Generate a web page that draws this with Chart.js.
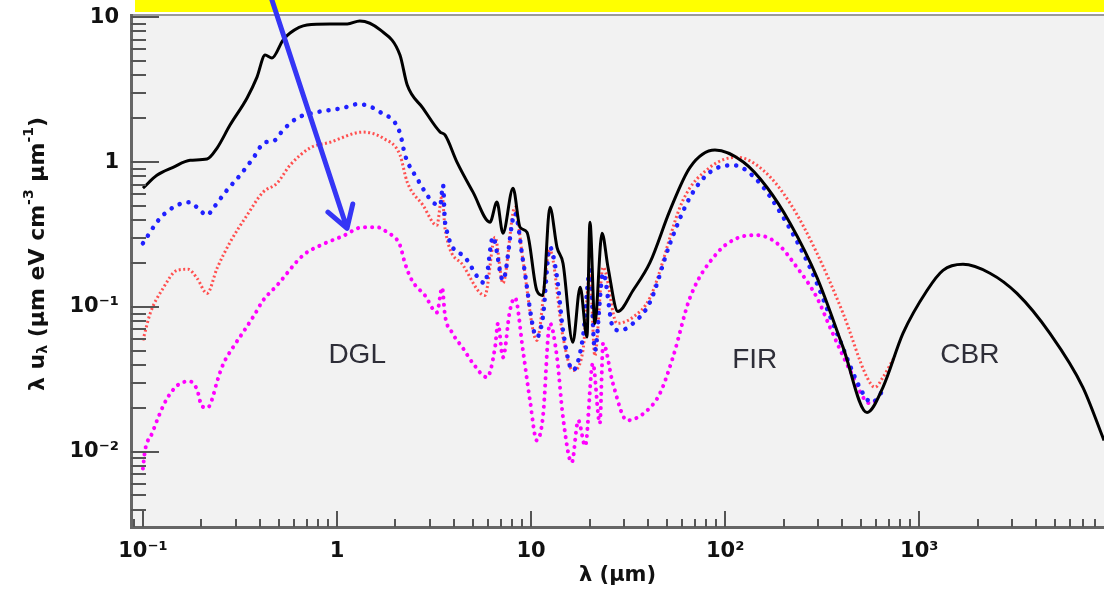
<!DOCTYPE html>
<html>
<head>
<meta charset="utf-8">
<script src="https://cdn.jsdelivr.net/npm/chart.js@4.4.1/dist/chart.umd.min.js"></script>
<style>
  body { margin: 0; background: #fff; }
  canvas { display: block; }
</style>
</head>
<body>
<canvas id="chart" width="1104" height="589"></canvas>
<script>
// wavelength (um) and lambda*u_lambda values
const blackX = [0.1, 0.118, 0.143, 0.175, 0.214, 0.241, 0.281, 0.344, 0.387, 0.426, 0.462, 0.527, 0.573, 0.70, 0.92, 1.13, 1.31, 1.67, 2.11, 2.30, 2.77, 3.40, 3.60, 4.15, 5.02, 6.14, 6.67, 7.16, 8.07, 8.77, 9.52, 10.7, 11.5, 12.5, 13.6, 14.6, 16.4, 17.9, 19.4, 20.1, 21.3, 23.2, 24.9, 28.0, 33.5, 41.0, 52.0, 65.9, 88.6, 124, 164, 216, 297, 405, 538, 650, 824, 1096, 1325, 1680, 2313, 3187, 4711, 6966, 8950];
const blackY = [0.66, 0.81, 0.92, 1.03, 1.05, 1.25, 1.80, 2.77, 3.86, 5.48, 5.23, 6.95, 7.78, 8.83, 8.97, 8.97, 9.42, 8.16, 5.48, 3.40, 2.36, 1.61, 1.54, 1.0, 0.62, 0.385, 0.53, 0.323, 0.66, 0.355, 0.328, 0.130, 0.120, 0.488, 0.258, 0.200, 0.057, 0.137, 0.062, 0.385, 0.077, 0.323, 0.188, 0.093, 0.130, 0.203, 0.466, 0.92, 1.21, 1.0, 0.67, 0.378, 0.160, 0.0526, 0.0187, 0.0279, 0.0657, 0.130, 0.179, 0.197, 0.171, 0.124, 0.0657, 0.0279, 0.0120];

const blueX = [0.1, 0.1225, 0.150, 0.175, 0.192, 0.214, 0.230, 0.271, 0.316, 0.369, 0.426, 0.468, 0.527, 0.622, 0.789, 1.07, 1.28, 1.67, 2.11, 2.24, 2.58, 3.12, 3.40, 3.52, 3.60, 4.46, 5.78, 6.36, 7.16, 8.26, 9.08, 10.7, 11.5, 12.5, 13.6, 14.6, 16.4, 18.5, 20.1, 21.3, 23.5, 26.4, 28.7, 33.5, 41.0, 52.0, 65.9, 83.5, 110, 146, 199, 273, 377, 513, 570, 650];
const blueY = [0.275, 0.409, 0.504, 0.528, 0.480, 0.430, 0.480, 0.640, 0.81, 1.06, 1.37, 1.39, 1.66, 2.01, 2.21, 2.36, 2.51, 2.21, 1.59, 1.12, 0.774, 0.528, 0.504, 0.692, 0.385, 0.227, 0.146, 0.303, 0.153, 0.443, 0.210, 0.062, 0.085, 0.258, 0.160, 0.0689, 0.0365, 0.062, 0.179, 0.050, 0.171, 0.0722, 0.0689, 0.077, 0.108, 0.275, 0.572, 0.852, 0.952, 0.750, 0.416, 0.188, 0.0657, 0.0253, 0.0219, 0.0265];

const redX = [0.1, 0.109, 0.127, 0.150, 0.171, 0.190, 0.214, 0.241, 0.281, 0.344, 0.416, 0.491, 0.573, 0.726, 0.92, 1.36, 1.73, 2.11, 2.30, 2.77, 3.27, 3.48, 3.60, 4.46, 5.78, 6.52, 7.16, 8.26, 9.08, 10.7, 12.5, 14.6, 16.4, 18.5, 20.1, 21.3, 23.5, 27.7, 33.5, 41.0, 60.6, 83.5, 115, 157, 216, 297, 405, 538, 591, 650, 750];
const redY = [0.0588, 0.0903, 0.1345, 0.179, 0.182, 0.158, 0.124, 0.185, 0.279, 0.430, 0.62, 0.715, 0.952, 1.25, 1.37, 1.61, 1.46, 1.12, 0.727, 0.504, 0.366, 0.59, 0.349, 0.194, 0.120, 0.303, 0.146, 0.488, 0.210, 0.0588, 0.246, 0.062, 0.0365, 0.050, 0.17, 0.046, 0.188, 0.077, 0.085, 0.116, 0.545, 0.92, 1.08, 0.879, 0.520, 0.235, 0.0903, 0.0327, 0.0279, 0.0327, 0.046];

const magX = [0.1, 0.1025, 0.1114, 0.121, 0.133, 0.155, 0.175, 0.190, 0.2015, 0.216, 0.227, 0.241, 0.259, 0.291, 0.328, 0.374, 0.416, 0.491, 0.668, 0.847, 1.07, 1.36, 1.61, 1.81, 2.11, 2.24, 2.43, 2.84, 3.27, 3.48, 3.60, 3.91, 4.46, 5.02, 5.93, 6.52, 6.75, 7.16, 7.78, 8.26, 9.08, 9.87, 10.7, 11.5, 12.5, 13.6, 14.6, 16.2, 17.5, 19.0, 20.8, 22.6, 23.5, 26.4, 31.2, 39.6, 46.1, 53.8, 65.9, 90.7, 115, 146, 185, 234, 297, 347, 440, 557, 620];
const magY = [0.00767, 0.0102, 0.0134, 0.0178, 0.0233, 0.0296, 0.0306, 0.0269, 0.0206, 0.0202, 0.0230, 0.0306, 0.0402, 0.0526, 0.0668, 0.0875, 0.111, 0.141, 0.227, 0.271, 0.308, 0.355, 0.355, 0.328, 0.267, 0.200, 0.153, 0.120, 0.0916, 0.136, 0.0875, 0.0668, 0.0518, 0.0408, 0.0327, 0.0526, 0.077, 0.0449, 0.0948, 0.116, 0.050, 0.0226, 0.0120, 0.0173, 0.077, 0.0449, 0.0173, 0.00843, 0.0165, 0.0110, 0.0408, 0.0157, 0.0561, 0.0296, 0.0165, 0.0193, 0.0253, 0.0449, 0.116, 0.235, 0.298, 0.313, 0.275, 0.188, 0.116, 0.0723, 0.0365, 0.0216, 0.0235];

// axis tick labels
const xTickValues = [0.1, 1, 10, 100, 1000];
const xTickLabels = ['10⁻¹', '1', '10', '10²', '10³'];
const yTickValues = [0.01, 0.1, 1, 10];
const yTickLabels = ['10⁻²', '10⁻¹', '1', '10'];

// region labels and the arrow (data coordinates)
const noteText = ['DGL', 'FIR', 'CBR'];
const noteX = [1.27, 142, 1824];
const noteY = [0.0463, 0.0428, 0.0463];
const arrowX = [0.462, 1.126];
const arrowY = [13.15, 0.349];

function toPoints(xs, ys) {
  return xs.map((x, i) => ({ x: x, y: ys[i] }));
}

// 1..9 x 10^n ticks inside the range
function logTicks(min, max) {
  const out = [];
  for (let e = Math.floor(Math.log10(min)); e <= Math.ceil(Math.log10(max)); e++) {
    for (let m = 1; m <= 9; m++) {
      const v = +(m * Math.pow(10, e)).toPrecision(3);
      if (v >= min && v <= max) out.push({ value: v, major: m === 1 });
    }
  }
  return out;
}

function labelFor(values, labels) {
  return function (value) {
    const i = values.findIndex((v) => Math.abs(v - value) / v < 1e-6);
    return i >= 0 ? labels[i] : '';
  };
}

// draws text with sub/superscript parts, centred on 0,0
function richText(ctx, parts, size) {
  const small = Math.round(size * 0.65);
  let total = 0;
  parts.forEach((p) => {
    ctx.font = 'bold ' + (p[1] ? small : size) + 'px "DejaVu Sans"';
    p.w = ctx.measureText(p[0]).width;
    total += p.w;
  });
  let x = -total / 2;
  parts.forEach((p) => {
    ctx.font = 'bold ' + (p[1] ? small : size) + 'px "DejaVu Sans"';
    const dy = p[1] === 1 ? -size * 0.38 : p[1] === -1 ? size * 0.25 : 0;
    ctx.fillText(p[0], x, dy);
    x += p.w;
  });
}

const decor = {
  id: 'decor',
  beforeDraw(chart) {
    const { ctx, chartArea: a } = chart;
    ctx.save();
    ctx.fillStyle = '#f2f2f2';
    ctx.fillRect(a.left, a.top, a.right - a.left, a.bottom - a.top);
    ctx.fillStyle = '#ffff00';
    ctx.fillRect(a.left + 4, 0, a.right - a.left - 4, a.top - 3);
    ctx.strokeStyle = '#9a9a9a';
    ctx.lineWidth = 2;
    ctx.beginPath();
    ctx.moveTo(a.left, a.top);
    ctx.lineTo(a.right, a.top);
    ctx.stroke();
    ctx.restore();
  },
  afterDatasetsDraw(chart) {
    const { ctx, chartArea: a, scales } = chart;
    const x = scales.x, y = scales.y;
    ctx.save();

    // inward tick marks
    ctx.strokeStyle = '#555';
    ctx.lineWidth = 2;
    ctx.beginPath();
    x.ticks.forEach((t) => {
      const px = Math.round(x.getPixelForValue(t.value));
      ctx.moveTo(px, a.bottom);
      ctx.lineTo(px, a.bottom - (t.major ? 16 : 8));
    });
    y.ticks.forEach((t) => {
      const py = Math.round(y.getPixelForValue(t.value));
      ctx.moveTo(a.left, py);
      ctx.lineTo(a.left + (t.major ? 28 : 15), py);
    });
    ctx.stroke();

    // region labels
    ctx.fillStyle = '#2e2e38';
    ctx.font = '28px "Liberation Sans"';
    ctx.textAlign = 'center';
    ctx.textBaseline = 'middle';
    noteText.forEach((s, i) => {
      ctx.fillText(s, x.getPixelForValue(noteX[i]), y.getPixelForValue(noteY[i]));
    });

    // arrow
    const x0 = x.getPixelForValue(arrowX[0]), y0 = y.getPixelForValue(arrowY[0]);
    const x1 = x.getPixelForValue(arrowX[1]), y1 = y.getPixelForValue(arrowY[1]);
    const ang = Math.atan2(y1 - y0, x1 - x0);
    ctx.strokeStyle = '#3535f5';
    ctx.lineWidth = 5;
    ctx.lineCap = 'round';
    ctx.lineJoin = 'round';
    ctx.beginPath();
    ctx.moveTo(x0, y0);
    ctx.lineTo(x1, y1);
    ctx.moveTo(x1 - 25 * Math.cos(ang - 0.55), y1 - 25 * Math.sin(ang - 0.55));
    ctx.lineTo(x1, y1);
    ctx.lineTo(x1 - 25 * Math.cos(ang + 0.55), y1 - 25 * Math.sin(ang + 0.55));
    ctx.stroke();

    // y axis title
    ctx.fillStyle = '#111';
    ctx.textAlign = 'left';
    ctx.textBaseline = 'middle';
    ctx.translate(38, 254);
    ctx.rotate(-Math.PI / 2);
    richText(ctx, [['λ u', 0], ['λ', -1], [' (μm eV cm', 0], ['-3', 1], [' μm', 0], ['-1', 1], [')', 0]], 22);
    ctx.restore();
  },
};

new Chart('chart', {
  type: 'line',
  data: {
    datasets: [
      {
        data: toPoints(blackX, blackY),
        borderColor: '#000',
        borderWidth: 3,
      },
      {
        data: toPoints(blueX, blueY),
        borderColor: '#2020ff',
        borderWidth: 4.5,
        borderDash: [0.1, 9],
        borderCapStyle: 'round',
      },
      {
        data: toPoints(redX, redY),
        borderColor: '#ff4f4f',
        borderWidth: 3,
        borderDash: [2, 2.5],
      },
      {
        data: toPoints(magX, magY),
        borderColor: '#ff00ff',
        borderWidth: 4,
        borderDash: [0.1, 7],
        borderCapStyle: 'round',
      },
    ],
  },
  options: {
    responsive: false,
    animation: false,
    layout: { padding: { top: 15, left: 0, right: 0, bottom: 0 } },
    elements: {
      point: { radius: 0 },
      line: { cubicInterpolationMode: 'monotone', fill: false },
    },
    plugins: { legend: { display: false }, tooltip: { enabled: false } },
    scales: {
      x: {
        type: 'logarithmic',
        min: 0.0868,
        max: 8950,
        afterBuildTicks: (s) => { s.ticks = logTicks(s.min, s.max); },
        afterFit: (s) => { s.height = 62; s.paddingLeft = 0; s.paddingRight = 0; },
        grid: { display: false, drawTicks: false },
        border: { display: true, color: '#666', width: 3 },
        ticks: {
          autoSkip: false,
          maxRotation: 0,
          padding: 12,
          color: '#111',
          font: { family: 'DejaVu Sans', size: 21, weight: 'bold' },
          callback: labelFor(xTickValues, xTickLabels),
        },
        title: {
          display: true,
          text: 'λ (μm)',
          color: '#111',
          font: { family: 'DejaVu Sans', size: 21, weight: 'bold' },
          padding: { top: 0, bottom: 1 },
        },
      },
      y: {
        type: 'logarithmic',
        min: 0.00303,
        max: 10.35,
        afterBuildTicks: (s) => { s.ticks = logTicks(s.min, s.max); },
        afterFit: (s) => { s.width = 131; s.paddingTop = 0; s.paddingBottom = 0; },
        grid: { display: false, drawTicks: false },
        border: { display: true, color: '#666', width: 3 },
        ticks: {
          autoSkip: false,
          padding: 12,
          color: '#111',
          font: { family: 'DejaVu Sans', size: 21, weight: 'bold' },
          callback: labelFor(yTickValues, yTickLabels),
        },
      },
    },
  },
  plugins: [decor],
});
</script>
</body>
</html>
